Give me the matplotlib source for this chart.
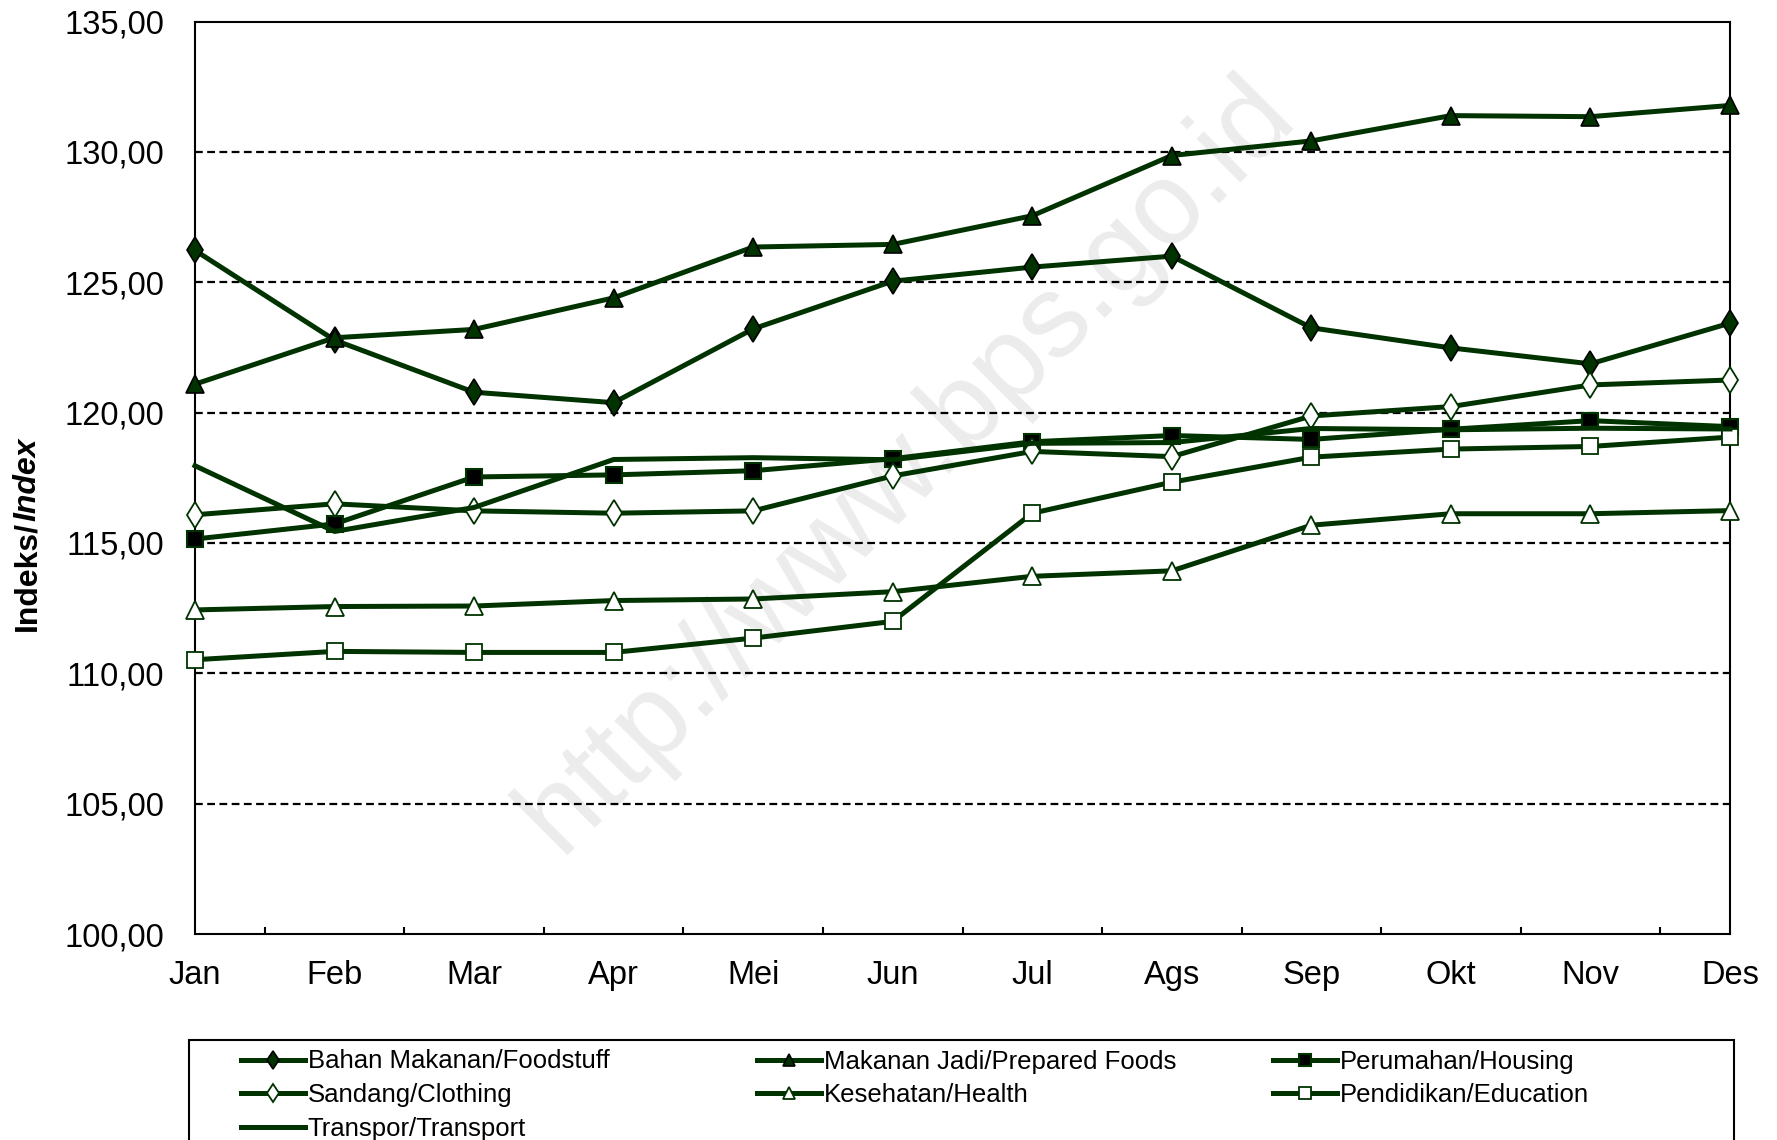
import numpy as np
import matplotlib
matplotlib.use('Agg')
import matplotlib.pyplot as plt
from matplotlib.ticker import FuncFormatter, MultipleLocator, FixedLocator
from matplotlib.patches import Rectangle
from matplotlib.text import Annotation

plt.rcParams['font.family'] = ['Liberation Sans', 'DejaVu Sans']

months = ['Jan', 'Feb', 'Mar', 'Apr', 'Mei', 'Jun', 'Jul', 'Ags', 'Sep', 'Okt', 'Nov', 'Des']

bahan_makanan = [126.22, 122.78, 120.78, 120.38, 123.21, 125.04, 125.58, 126.00, 123.25, 122.48, 121.87, 123.43]
makanan_jadi = [121.09, 122.87, 123.19, 124.40, 126.35, 126.45, 127.55, 129.86, 130.42, 131.39, 131.35, 131.78]
perumahan = [115.15, 115.73, 117.53, 117.61, 117.77, 118.23, 118.88, 119.12, 118.97, 119.36, 119.69, 119.46]
sandang = [116.08, 116.50, 116.23, 116.14, 116.23, 117.57, 118.51, 118.31, 119.87, 120.23, 121.06, 121.25]
kesehatan = [112.43, 112.56, 112.58, 112.79, 112.85, 113.13, 113.72, 113.93, 115.68, 116.12, 116.12, 116.24]
pendidikan = [110.52, 110.84, 110.80, 110.80, 111.35, 111.99, 116.14, 117.33, 118.29, 118.60, 118.70, 119.06]
transpor = [117.96, 115.44, 116.36, 118.20, 118.27, 118.19, 118.82, 118.85, 119.39, 119.34, 119.40, 119.37]

labels = ['Bahan Makanan/Foodstuff', 'Makanan Jadi/Prepared Foods', 'Perumahan/Housing',
          'Sandang/Clothing', 'Kesehatan/Health', 'Pendidikan/Education', 'Transpor/Transport']

GREEN = '#003300'

fig = plt.figure(figsize=(17.77, 11.40), dpi=100)
ax = fig.add_axes([195/1777, 1-934/1140, 1535/1777, 912.5/1140])

x = np.arange(len(months))
styles = [
    dict(marker='d', ms=13.5, mfc=GREEN, mec='black', mew=1.2),
    dict(marker='^', ms=13, mfc=GREEN, mec='black', mew=1.2),
    dict(marker='s', ms=12, mfc='black', mec=GREEN, mew=1.5),
    dict(marker='d', ms=13.5, mfc='white', mec=GREEN, mew=1.3),
    dict(marker='^', ms=13, mfc='white', mec=GREEN, mew=1.3),
    dict(marker='s', ms=12, mfc='white', mec=GREEN, mew=1.3),
    dict(marker=None),
]
series = [bahan_makanan, makanan_jadi, perumahan, sandang, kesehatan, pendidikan, transpor]
handles = []
for vals, lab, st in zip(series, labels, styles):
    h, = ax.plot(x, vals, color=GREEN, lw=3.6, label=lab, zorder=3, clip_on=False, **st)
    handles.append(h)

ax.set_xlim(0, 11)
ax.set_ylim(100, 135)
ax.yaxis.set_major_locator(MultipleLocator(5))
ax.yaxis.set_major_formatter(FuncFormatter(lambda v, p: f'{v:.2f}'.replace('.', ',')))
ax.set_xticks(x)
ax.set_xticklabels(months)
ax.xaxis.set_minor_locator(FixedLocator(np.arange(0.5, 11, 1)))
ax.tick_params(axis='x', which='major', length=0, pad=19, labelsize=23.5)
ax.tick_params(axis='x', which='minor', direction='in', length=5, width=1.5)
ax.tick_params(axis='y', length=0, pad=22, labelsize=23.5)

for g in range(105, 135, 5):
    ax.axhline(g, color='black', lw=1.6, ls=(0, (3.5, 2)), zorder=1)
for s in ax.spines.values():
    s.set_linewidth(1.5)
    s.set_color('black')

# watermark
ax.text(0.4638, 0.514, 'http://www.bps.go.id', transform=ax.transAxes, rotation=45,
        rotation_mode='anchor', ha='center', va='center', fontsize=84,
        color='#ececec', zorder=0.5)

# y label: bold + bold italic part
t1 = fig.text(27/1777, 1-631/1140, 'Indeks/', rotation=90, ha='center', va='bottom',
              fontsize=23, fontweight='bold')
fig.add_artist(Annotation('Index', xy=(0.5, 1), xycoords=t1,
                          rotation=90, ha='center', va='bottom', fontsize=23,
                          fontweight='bold', fontstyle='italic'))

# legend: three columns, row-wise order like the original
columns = [[0, 3, 6], [1, 4], [2, 5]]
col_x = [241, 757, 1273]
for idx, cx in zip(columns, col_x):
    leg = fig.legend([handles[i] for i in idx], [labels[i] for i in idx],
                     loc='upper left', bbox_to_anchor=(cx/1777, 1-1049.5/1140),
                     frameon=False, borderpad=0, borderaxespad=0, fontsize=18.5,
                     handlelength=2.5, handletextpad=0.1, labelspacing=0.38,
                     markerscale=0.7)
fig.add_artist(Rectangle((189/1777, -0.1), 1545/1777, 0.1 + 1 - 1040/1140,
                         transform=fig.transFigure, fill=False, edgecolor='black',
                         lw=1.5, clip_on=False))

fig.savefig('out.png', dpi=100)
